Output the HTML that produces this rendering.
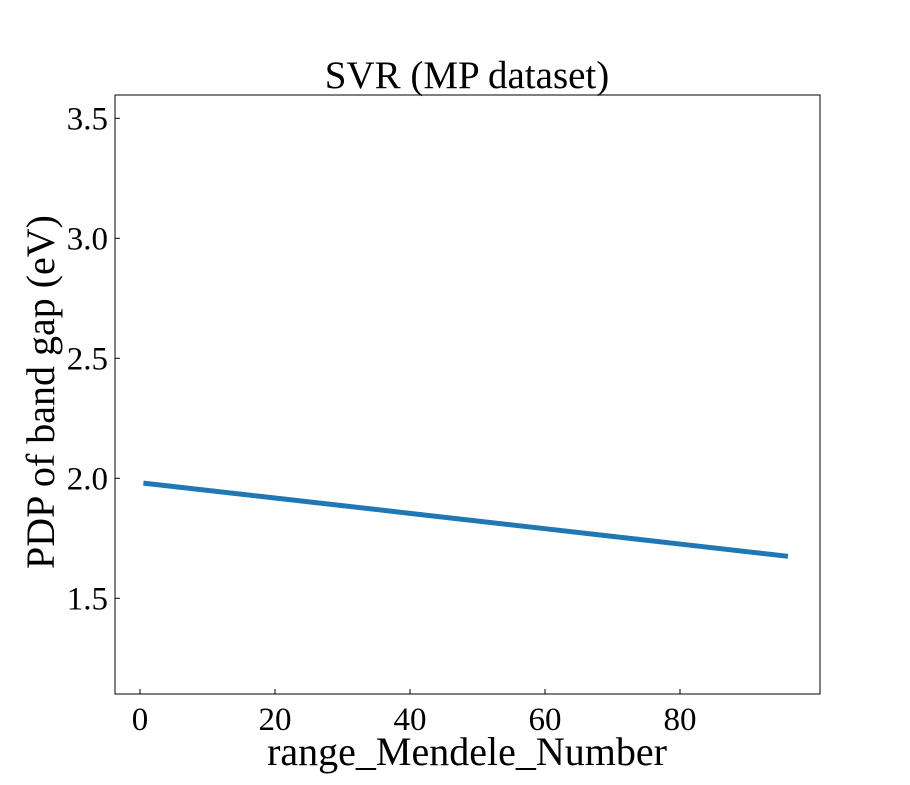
<!DOCTYPE html>
<html><head><meta charset="utf-8"><style>
body{margin:0;background:#fff}
svg text{font-family:"Liberation Serif","DejaVu Serif",serif;fill:#000}
</style></head><body>
<svg width="910" height="780" xmlns="http://www.w3.org/2000/svg">
<g id="g"></g>
</svg>
<script>
const xValues=[0.5,20,40,60,80,96];
const yValues=[1.98,1.918,1.854,1.790,1.726,1.675];
const xTicks=[0,20,40,60,80];
const yTicks=[1.5,2.0,2.5,3.0,3.5];
const yTickLabels=["1.5","2.0","2.5","3.0","3.5"];
const L=115,R=820,T=95,B=694;
const sx=v=>140+v*6.75;
const sy=v=>478.3-(v-2.0)*240;
const ns="http://www.w3.org/2000/svg";
const g=document.getElementById('g');
function mk(t,a,txt){const e=document.createElementNS(ns,t);for(const k in a)e.setAttribute(k,a[k]);if(txt!==undefined)e.textContent=txt;g.appendChild(e);return e;}
let d=xValues.map((x,i)=>(i?'L':'M')+sx(x)+','+sy(yValues[i])).join(' ');
const ln=mk('path',{d:d,fill:'none',stroke:'#1f77b4','stroke-width':5,'stroke-linecap':'butt'});


const fr=mk('rect',{x:L,y:T,width:R-L,height:B-T,fill:'none',stroke:'#000','stroke-width':1});


xTicks.forEach(v=>{const x=sx(v);
mk('line',{x1:x,x2:x,y1:B,y2:B-5,stroke:'#000'});
const t=mk('text',{x:x,y:B+36,'text-anchor':'middle','font-size':33},String(v));

});
yTicks.forEach((v,i)=>{const y=sy(v);
mk('line',{x1:L,x2:L+5,y1:y,y2:y,stroke:'#000'});
const t=mk('text',{x:L-7,y:y+11,'text-anchor':'end','font-size':33},yTickLabels[i]);

});
const ti=mk('text',{x:467,y:88,'text-anchor':'middle','font-size':39},'SVR (MP dataset)');


const xt=mk('text',{x:467,y:765,'text-anchor':'middle','font-size':40},'range_Mendele_Number');


const yt=mk('text',{x:0,y:0,'text-anchor':'middle','font-size':40,transform:'translate(54,392) rotate(-90)'},'PDP of band gap (eV)');


</script>
</body></html>
